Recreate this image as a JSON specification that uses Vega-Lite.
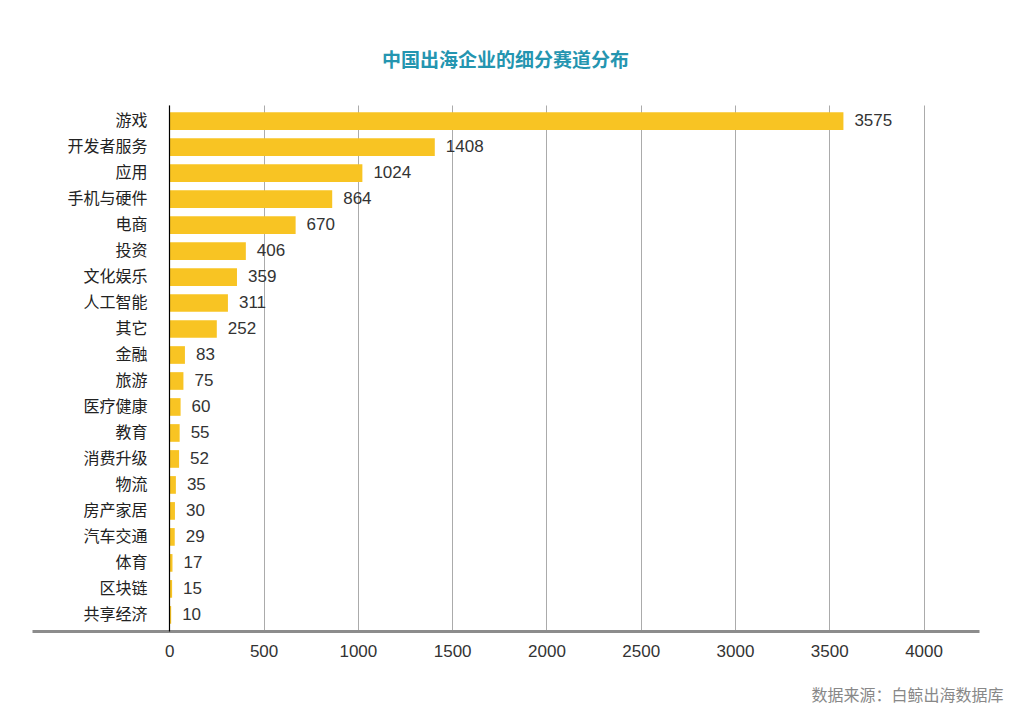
{
  "$schema": "https://vega.github.io/schema/vega-lite/v6.json",
  "width": 947,
  "height": 526,
  "autosize": "none",
  "padding": {"left": 32, "top": 105, "right": 48, "bottom": 95},
  "background": "white",
  "title": {
    "text": "中国出海企业的细分赛道分布",
    "font": "Noto Sans CJK SC",
    "fontSize": 19,
    "fontWeight": "bold",
    "color": "#2495b0",
    "anchor": "middle",
    "baseline": "bottom",
    "offset": 15
  },
  "config": {"view": {"stroke": null}},
  "data": {
    "values": [
      {"category": "游戏", "count": 3575},
      {"category": "开发者服务", "count": 1408},
      {"category": "应用", "count": 1024},
      {"category": "手机与硬件", "count": 864},
      {"category": "电商", "count": 670},
      {"category": "投资", "count": 406},
      {"category": "文化娱乐", "count": 359},
      {"category": "人工智能", "count": 311},
      {"category": "其它", "count": 252},
      {"category": "金融", "count": 83},
      {"category": "旅游", "count": 75},
      {"category": "医疗健康", "count": 60},
      {"category": "教育", "count": 55},
      {"category": "消费升级", "count": 52},
      {"category": "物流", "count": 35},
      {"category": "房产家居", "count": 30},
      {"category": "汽车交通", "count": 29},
      {"category": "体育", "count": 17},
      {"category": "区块链", "count": 15},
      {"category": "共享经济", "count": 10}
    ]
  },
  "encoding": {
    "y": {
      "field": "category",
      "type": "nominal",
      "sort": null,
      "scale": {"paddingInner": 0.32, "paddingOuter": 0.28},
      "axis": {
        "title": null,
        "offset": -137,
        "domain": true,
        "domainColor": "#000000",
        "domainWidth": 1.2,
        "ticks": false,
        "labelPadding": 22,
        "labelFont": "Noto Sans CJK SC",
        "labelFontSize": 16,
        "labelColor": "#222222",
        "zindex": 1
      }
    },
    "x": {
      "field": "count",
      "type": "quantitative",
      "scale": {"domain": [-728, 4294], "nice": false, "zero": false},
      "axis": {
        "values": [0, 500, 1000, 1500, 2000, 2500, 3000, 3500, 4000],
        "format": "d",
        "grid": true,
        "gridColor": "#ababab",
        "gridWidth": 1,
        "domainColor": "#8c8c8c",
        "domainWidth": 3,
        "ticks": false,
        "labelFont": "Liberation Sans",
        "labelFontSize": 17,
        "labelColor": "#333333",
        "labelPadding": 12,
        "title": "数据来源：白鲸出海数据库",
        "titleFont": "Noto Sans CJK SC",
        "titleFontSize": 16,
        "titleFontWeight": "normal",
        "titleColor": "#888888",
        "titleAnchor": "end",
        "titleAlign": "right",
        "titleBaseline": "middle",
        "titleX": 971,
        "titleY": 64
      }
    }
  },
  "layer": [
    {
      "mark": {"type": "bar", "color": "#f8c423"},
      "encoding": {"x2": {"datum": 0}}
    },
    {
      "mark": {
        "type": "text",
        "align": "left",
        "baseline": "middle",
        "dx": 11,
        "font": "Liberation Sans",
        "fontSize": 17,
        "color": "#333333"
      },
      "encoding": {"text": {"field": "count", "type": "quantitative", "format": "d"}}
    }
  ]
}
